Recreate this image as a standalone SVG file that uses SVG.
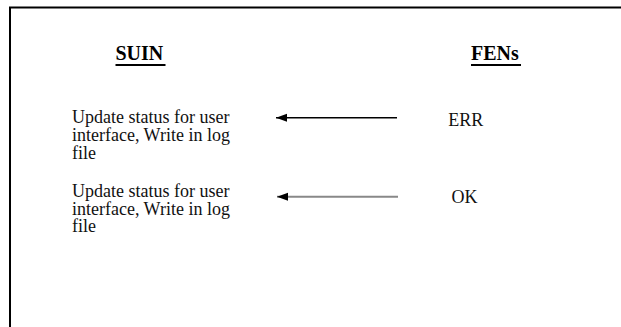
<svg xmlns="http://www.w3.org/2000/svg" width="621" height="327" viewBox="0 0 621 327">
  <style>
    .frame { fill: none; stroke: #000; stroke-width: 2; }
    .head { font-family: "Liberation Serif", "Times New Roman", serif; font-size: 20px; font-weight: bold; fill: #000; }
    .body { font-family: "Liberation Serif", "Times New Roman", serif; font-size: 18px; fill: #111; }
    .ul { stroke: #000; stroke-width: 2; }
    .conn-dark { stroke: #000; stroke-width: 1.6; fill: none; }
    .conn-grey { stroke: #888; stroke-width: 2; fill: none; }
  </style>
  <defs>
    <!-- filled triangular head; tip sits on the line's end point -->
    <marker id="arrow" markerUnits="userSpaceOnUse" markerWidth="12" markerHeight="10" refX="11" refY="5" orient="auto" viewBox="0 0 12 10">
      <path d="M11,5 L0,1 L0,9 Z" fill="#000"/>
    </marker>
  </defs>
  <rect width="621" height="327" fill="#fff"/>
  <!-- outer frame, open past the right and bottom edges -->
  <path class="frame" d="M10,330 V7.5 H625"/>

  <g id="suin">
    <text class="head" x="115.5" y="60">SUIN</text>
    <line class="ul" x1="115.5" y1="65" x2="165.5" y2="65"/>
  </g>
  <g id="fens">
    <text class="head" x="471" y="60">FENs</text>
    <line class="ul" x1="471" y1="65" x2="521" y2="65"/>
  </g>

  <g id="suin-err-action">
    <text class="body" x="72" y="123.3">Update status for user</text>
    <text class="body" x="72" y="141.3">interface, Write in log</text>
    <text class="body" x="72" y="158.8">file</text>
  </g>
  <g id="suin-ok-action">
    <text class="body" x="72" y="197.3">Update status for user</text>
    <text class="body" x="72" y="215">interface, Write in log</text>
    <text class="body" x="72" y="231.7">file</text>
  </g>
  <g id="fens-err">
    <text class="body" x="448.3" y="125.7">ERR</text>
  </g>
  <g id="fens-ok">
    <text class="body" x="451.5" y="202.7">OK</text>
  </g>

  <g id="connectors">
    <line class="conn-dark" x1="397" y1="117.7" x2="276" y2="117.7" marker-end="url(#arrow)"/>
    <line class="conn-grey" x1="398" y1="196.7" x2="277" y2="196.7" marker-end="url(#arrow)"/>
  </g>
</svg>
